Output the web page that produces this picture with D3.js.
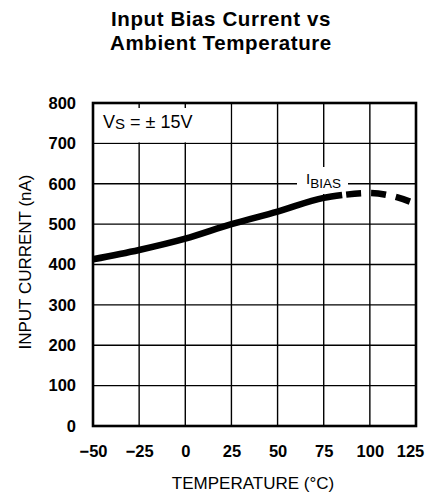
<!DOCTYPE html>
<html><head><meta charset="utf-8">
<script src="https://cdn.jsdelivr.net/npm/d3@7"></script>
<style>
html,body{margin:0;padding:0;background:#fff;}
text{font-family:"Liberation Sans",Arial,sans-serif;fill:#000;}
</style></head>
<body>
<svg id="chart" width="429" height="494"></svg>
<script>
const titleLines = ["Input Bias Current vs", "Ambient Temperature"];
const xTicks = [-50, -25, 0, 25, 50, 75, 100, 125];
const yTicks = [0, 100, 200, 300, 400, 500, 600, 700, 800];
const temps = [-50, -25, 0, 25, 50, 75, 85, 100, 115, 125];
const biasCurrent = [413, 436, 464, 500, 531, 565, 572, 577, 566, 550];
const solidLimit = 85;
const xLabel = "TEMPERATURE (°C)";
const yLabel = "INPUT CURRENT (nA)";

const svg = d3.select("#chart");
const L = 93, R = 416, T = 103, B = 426;
const x = d3.scaleLinear().domain([-50, 125]).range([L, R]);
const y = d3.scaleLinear().domain([0, 800]).range([B, T]);

// title
svg.append("text").attr("x", 221).attr("text-anchor", "middle")
  .style("font-weight", "bold").style("font-size", "20.5px").style("letter-spacing", "0.6px")
  .selectAll("tspan").data(titleLines).join("tspan")
  .attr("x", 221).attr("y", (d, i) => 26 + i * 24).text(d => d);

// grid
const g = svg.append("g");
g.selectAll("line.v").data(xTicks.slice(1, -1)).join("line")
  .attr("x1", d => x(d)).attr("x2", d => x(d)).attr("y1", T).attr("y2", B)
  .attr("stroke", "#000").attr("stroke-width", 1.4);
g.selectAll("line.h").data(yTicks.slice(1, -1)).join("line")
  .attr("y1", d => y(d)).attr("y2", d => y(d)).attr("x1", L).attr("x2", R)
  .attr("stroke", "#000").attr("stroke-width", 1.4);

// white box behind Vs label (top-left cell row), with small ticks kept at top
svg.append("rect").attr("x", L + 1).attr("y", T + 1)
  .attr("width", x(25) - L - 2).attr("height", y(700) - T - 2).attr("fill", "#fff");
svg.selectAll("line.tt").data([-25, 0]).join("line")
  .attr("x1", d => x(d)).attr("x2", d => x(d)).attr("y1", T).attr("y2", T + 5)
  .attr("stroke", "#000").attr("stroke-width", 1.4);

// white box behind IBIAS label
svg.append("rect").attr("x", 297).attr("y", 167).attr("width", 51).attr("height", 27).attr("fill", "#fff");

// frame
svg.append("rect").attr("x", L).attr("y", T).attr("width", R - L).attr("height", B - T)
  .attr("fill", "none").attr("stroke", "#000").attr("stroke-width", 2.6);

// axes ticks labels
const xAxis = d3.axisBottom(x).tickValues(xTicks).tickSize(0).tickPadding(19)
  .tickFormat(d => d < 0 ? "\u2212" + Math.abs(d) : String(d));
const xa = svg.append("g").attr("transform", `translate(0,${B})`).call(xAxis);
xa.select(".domain").remove();
xa.selectAll("text").style("font-size", "16.5px").style("font-weight", "bold").attr("fill", "#000")
  .attr("dx", d => d === 125 ? -6 : 0);

const yAxis = d3.axisLeft(y).tickValues(yTicks).tickSize(0).tickPadding(17);
const ya = svg.append("g").attr("transform", `translate(${L},0)`).call(yAxis);
ya.select(".domain").remove();
ya.selectAll("text").style("font-size", "16.5px").style("font-weight", "bold").attr("fill", "#000");

// axis titles
svg.append("text").attr("x", 253).attr("y", 489).attr("text-anchor", "middle")
  .style("font-size", "17px").text(xLabel);
svg.append("text").attr("transform", "translate(31,262) rotate(-90)").attr("text-anchor", "middle")
  .style("font-size", "17px").text(yLabel);

// Vs label
const vs = svg.append("text").attr("x", 103).attr("y", 128).style("font-size", "18px");
vs.append("tspan").text("V");
vs.append("tspan").attr("dy", 1).style("font-size", "15px").text("S");
vs.append("tspan").attr("dy", -1).text(" = \u00b1 15V");

// IBIAS label
const ib = svg.append("text").attr("x", 306).attr("y", 184).style("font-size", "15px");
ib.append("tspan").text("I");
ib.append("tspan").attr("dy", 3.5).style("font-size", "13.5px").text("BIAS");

// curve
const pts = temps.map((t, i) => ({t, v: biasCurrent[i]}));
const line = d3.line().x(d => x(d.t)).y(d => y(d.v)).curve(d3.curveMonotoneX);
svg.append("path").datum(pts.filter(d => d.t <= solidLimit)).attr("d", line)
  .attr("fill", "none").attr("stroke", "#000").attr("stroke-width", 6.5);
svg.append("path").datum(pts.filter(d => d.t >= solidLimit)).attr("d", line)
  .attr("fill", "none").attr("stroke", "#000").attr("stroke-width", 6.5)
  .attr("stroke-dasharray", "0,4,15,6");
</script>
</body></html>
